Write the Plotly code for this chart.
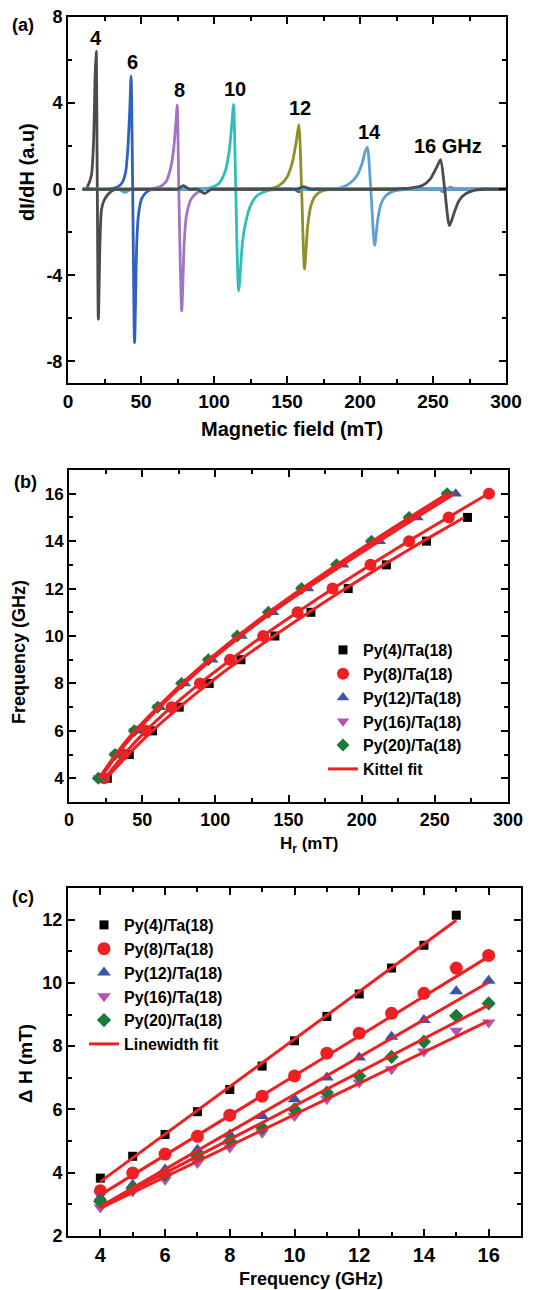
import plotly.graph_objects as go

W, H = 545, 1290
FONT = "Liberation Sans, Arial, sans-serif"

# ---------------- (a) FMR derivative spectra dI/dH ----------------
spec_labels = ["4", "6", "8", "10", "12", "14", "16 GHz"]
spec_colors = ["#4b4b4b", "#2f62bd", "#a274c4", "#2fbdbd", "#8f8f2a", "#5d9fd6", "#4b4b4b"]
label_x = [19.2, 44.3, 76.2, 114.4, 158.9, 206.4, 260.0]
label_y = [7.04, 5.92, 4.59, 4.67, 3.77, 2.65, 2.0]

field_4 = [10, 12, 13.2, 16.0, 17.5, 18.6, 19.3, 20.05, 20.8, 21.9, 23.0, 25.2, 29.6, 34, 38, 296, 300]
signal_4 = [0, 0, 0.1, 0.64, 2.2, 5.3, 6.41, 0.2, -6.04, -2.5, -0.92, -0.45, -0.1, 0, 0, 0, 0]

field_6 = [10, 14, 26, 30, 34, 37.3, 39.5, 41.0, 42.3, 43.2, 44.3, 45.6, 47.1, 48.2, 50.4, 53.7, 58, 62,
           151, 155, 158, 161, 165, 296, 300]
signal_6 = [0, 0, 0, 0.03, 0.1, 0.33, 0.8, 1.9, 3.7, 5.25, 0, -7.13, -2.47, -1.23, -0.45, -0.14, 0, 0,
            0, 0, -0.12, 0, 0, 0, 0]

field_8 = [10, 14, 54, 58, 62.5, 66.9, 70.2, 72.4, 73.9, 74.8, 75.9, 77.9, 79.6, 81.1, 84.4, 88.8, 95, 99,
           250, 254, 257, 259.5, 262, 265, 269, 296, 300]
signal_8 = [0, 0, 0, 0.03, 0.1, 0.33, 0.95, 1.88, 3.1, 3.9, 0, -5.65, -2.47, -1.23, -0.45, -0.14, 0, 0,
            0, 0, -0.12, 0, 0.1, 0, 0, 0, 0]

field_10 = [10, 14, 88, 92, 97.6, 103.1, 107.5, 110.3, 112.3, 113.4, 114.9, 116.9, 119.5, 121.7, 125, 129.4,
            137, 145, 149, 296, 300]
signal_10 = [0, 0, 0, 0.02, 0.06, 0.25, 0.8, 1.72, 3.1, 3.94, 0, -4.72, -2.47, -1.54, -0.76, -0.3,
             -0.06, 0, 0, 0, 0]

field_12 = [10, 14, 128, 132, 138, 144.5, 150, 153.7, 156.3, 158.1, 160, 162, 164.2, 166.4, 169.6, 175,
            183, 187, 296, 300]
signal_12 = [0, 0, 0, 0.01, 0.03, 0.17, 0.56, 1.26, 2.19, 3.0, 0, -3.71, -1.69, -0.76, -0.3, -0.06,
             0, 0, 0, 0]

field_14 = [10, 14, 31, 35, 39, 43, 47, 176, 180, 186, 192.5, 198, 201.7, 203.4, 205, 207.4, 210, 212.2,
            214.4, 217.6, 223, 232, 236, 296, 300]
signal_14 = [0, 0, 0, 0, -0.15, 0, 0, 0, 0.01, 0.05, 0.25, 0.64, 1.26, 1.72, 1.96, 0, -2.62, -1.38,
             -0.68, -0.3, -0.09, 0, 0, 0, 0]

field_16 = [10, 14, 71, 75, 79, 83, 86, 89, 93.5, 98, 102, 153, 157, 161.5, 166, 170, 222, 226, 234, 242.7,
            248.2, 252.5, 255.2, 258, 261.3, 264.6, 267.8, 272.2, 277.6, 285, 290, 296, 300]
signal_16 = [0, 0, 0, 0, 0.17, 0, 0, 0, -0.2, 0, 0, 0, 0, 0.12, 0, 0, 0, 0.01, 0.05, 0.17,
             0.48, 1.02, 1.38, 0, -1.69, -1.07, -0.53, -0.22, -0.06, 0, 0, 0, 0]

spec_fields = [field_4, field_6, field_8, field_10, field_12, field_14, field_16]
spec_signals = [signal_4, signal_6, signal_8, signal_10, signal_12, signal_14, signal_16]

a_yticks = [-8, -4, 0, 4, 8]
a_yticktext = ["-8", "-4", "0", "4", "8"]

# ---------------- shared sample list ----------------
samples = ["Py(4)/Ta(18)", "Py(8)/Ta(18)", "Py(12)/Ta(18)", "Py(16)/Ta(18)", "Py(20)/Ta(18)"]
sample_colors = ["#000000", "#ee2024", "#3c54a6", "#b355b5", "#1b7a3a"]
sample_symbols = ["square", "circle", "triangle-up", "triangle-down", "diamond"]
fit_color = "#ee2024"

# ---------------- (b) resonance field vs frequency ----------------
freq_b_py4 = [4, 5, 6, 7, 8, 9, 10, 11, 12, 13, 14, 15]
freq_b = [4, 5, 6, 7, 8, 9, 10, 11, 12, 13, 14, 15, 16]

hr_py4 = [26.2, 41.2, 57.1, 75.3, 95.8, 117.5, 140.7, 165.3, 190.8, 216.9, 244.3, 272.3]
hr_py8 = [24.0, 37.1, 52.6, 70.1, 89.5, 110.0, 132.7, 156.2, 180.1, 206.0, 232.4, 259.5, 287.0]
hr_py12 = [21.2, 32.5, 46.2, 62.1, 79.2, 97.9, 117.9, 139.5, 163.4, 187.3, 212.4, 238.1, 264.3]
hr_py16 = [20.5, 31.8, 45.0, 61.0, 77.5, 95.8, 115.8, 137.0, 159.5, 183.5, 207.5, 233.0, 259.0]
hr_py20 = [20.0, 31.4, 44.6, 60.6, 76.9, 95.2, 115.0, 136.2, 158.9, 182.8, 206.7, 232.4, 258.4]

# Kittel fit curves
kittel_py4 = [25.5, 40.5, 57.0, 75.5, 95.5, 117.0, 140.0, 164.0, 189.0, 215.0, 242.0, 270.0]
kittel_py8 = [24.5, 37.5, 52.5, 70.0, 89.5, 110.5, 132.5, 156.0, 180.5, 206.0, 232.0, 259.0, 286.5]
kittel_py12 = [21.5, 33.0, 46.5, 62.0, 79.0, 97.5, 117.5, 139.0, 162.5, 187.0, 212.0, 237.5, 263.5]
kittel_py16 = [21.0, 32.3, 45.5, 61.2, 78.0, 96.3, 116.2, 137.5, 160.0, 184.0, 208.5, 234.0, 260.0]
kittel_py20 = [20.5, 31.8, 45.0, 60.8, 77.3, 95.6, 115.4, 136.6, 159.2, 183.0, 207.3, 232.6, 258.5]

# ---------------- (c) linewidth vs frequency ----------------
dh_py4 = [3.83, 4.52, 5.21, 5.93, 6.63, 7.37, 8.17, 8.94, 9.65, 10.47, 11.19, 12.14]
dh_py8 = [3.43, 3.99, 4.59, 5.15, 5.82, 6.42, 7.06, 7.78, 8.41, 9.04, 9.67, 10.47, 10.87]
dh_py12 = [3.22, 3.62, 4.10, 4.73, 5.21, 5.79, 6.32, 7.01, 7.64, 8.30, 8.83, 9.74, 10.07]
dh_py16 = [2.90, 3.41, 3.78, 4.31, 4.80, 5.26, 5.79, 6.32, 6.85, 7.27, 7.83, 8.49, 8.75]
dh_py20 = [3.09, 3.51, 3.94, 4.52, 5.00, 5.42, 6.00, 6.53, 7.06, 7.66, 8.14, 8.96, 9.35]

# linear linewidth fits, end points
lwfit_f_py4 = [4, 15]
lwfit_py4 = [3.72, 11.98]
lwfit_f = [4, 16]
lwfit_py8 = [3.30, 10.83]
lwfit_py12 = [2.93, 10.02]
lwfit_py16 = [2.88, 8.80]
lwfit_py20 = [2.93, 9.30]

fig = go.Figure()

# (a) spectra
for xs, ys, col in zip(spec_fields, spec_signals, spec_colors):
    fig.add_trace(go.Scatter(x=xs, y=ys, mode="lines", xaxis="x", yaxis="y", showlegend=False,
                             line=dict(color=col, width=2.8, shape="spline", smoothing=0.7),
                             hoverinfo="skip"))

# (b) markers
b_freqs = [freq_b_py4, freq_b, freq_b, freq_b, freq_b]
b_hr = [hr_py4, hr_py8, hr_py12, hr_py16, hr_py20]
b_sizes = [9, 12, 11, 11, 10]
for name, xs, f, col, sym, sz in zip(samples, b_hr, b_freqs, sample_colors, sample_symbols, b_sizes):
    fig.add_trace(go.Scatter(x=xs, y=f, mode="markers", name=name, xaxis="x2", yaxis="y2",
                             legend="legend",
                             marker=dict(color=col, symbol=sym, size=sz, line=dict(width=0))))
b_fits = [kittel_py4, kittel_py8, kittel_py12, kittel_py16, kittel_py20]
for i, (xs, f) in enumerate(zip(b_fits, b_freqs)):
    fig.add_trace(go.Scatter(x=xs, y=f, mode="lines", name="Kittel fit", xaxis="x2", yaxis="y2",
                             legend="legend", showlegend=(i == 0),
                             line=dict(color=fit_color, width=3, shape="spline", smoothing=0.6)))

# (c) markers
c_dh = [dh_py4, dh_py8, dh_py12, dh_py16, dh_py20]
c_sizes = [9, 13, 12, 12, 11]
for name, ys, f, col, sym, sz in zip(samples, c_dh, b_freqs, sample_colors, sample_symbols, c_sizes):
    fig.add_trace(go.Scatter(x=f, y=ys, mode="markers", name=name, xaxis="x3", yaxis="y3",
                             legend="legend2",
                             marker=dict(color=col, symbol=sym, size=sz, line=dict(width=0))))
c_fit_x = [lwfit_f_py4, lwfit_f, lwfit_f, lwfit_f, lwfit_f]
c_fit_y = [lwfit_py4, lwfit_py8, lwfit_py12, lwfit_py16, lwfit_py20]
for i, (xs, ys) in enumerate(zip(c_fit_x, c_fit_y)):
    fig.add_trace(go.Scatter(x=xs, y=ys, mode="lines", name="Linewidth fit", xaxis="x3", yaxis="y3",
                             legend="legend2", showlegend=(i == 0),
                             line=dict(color=fit_color, width=3)))


def axis(domain, rng, dtick, minor_dtick, size, tick0=0, anchor=None, **kw):
    d = dict(domain=domain, range=rng, dtick=dtick, tick0=tick0, anchor=anchor, automargin=False,
             showline=True, linecolor="black", linewidth=2, mirror="ticks",
             ticks="inside", ticklen=7, tickwidth=2, tickcolor="black",
             showgrid=False, zeroline=False,
             tickfont=dict(size=size, family=FONT, color="black", weight="bold"),
             minor=dict(ticks="inside", ticklen=4, tickwidth=2, tickcolor="black",
                        dtick=minor_dtick, tick0=tick0, showgrid=False))
    d.update(kw)
    return d


def px(xp):
    return xp / W


def py(yp):
    return 1 - yp / H


fig.update_layout(
    template="none",
    width=W, height=H, margin=dict(l=0, r=0, t=0, b=0, pad=0), autosize=False,
    paper_bgcolor="white", plot_bgcolor="white",
    font=dict(family=FONT, color="black", weight="bold"),
    xaxis=axis([px(68), px(506)], [0, 300], 50, 25, 19, anchor="y"),
    yaxis=axis([py(383), py(17)], [-9, 8], None, 2, 18, anchor="x",
               tickmode="array", tickvals=a_yticks, ticktext=a_yticktext),
    xaxis2=axis([px(69), px(508)], [0, 300], 50, 25, 18, anchor="y2"),
    yaxis2=axis([py(802), py(470)], [3, 17], 2, 1, 17, tick0=4, anchor="x2"),
    xaxis3=axis([px(68), px(521)], [3, 17], 2, 1, 20, tick0=4, anchor="y3"),
    yaxis3=axis([py(1236), py(888)], [2, 13], 2, 1, 18, tick0=2, anchor="x3"),
    legend=dict(x=px(323), y=py(633), xanchor="left", yanchor="top", bgcolor="rgba(0,0,0,0)",
                font=dict(size=16, family=FONT, color="black", weight="bold"), tracegroupgap=0),
    legend2=dict(x=px(84), y=py(908), xanchor="left", yanchor="top", bgcolor="rgba(0,0,0,0)",
                 font=dict(size=16, family=FONT, color="black", weight="bold"), tracegroupgap=0),
)

# frequency labels on the spectra
for t, lx, ly in zip(spec_labels, label_x, label_y):
    fig.add_annotation(x=lx, y=ly, xref="x", yref="y", text=t, showarrow=False,
                       font=dict(size=20, family=FONT, color="black", weight="bold"),
                       xanchor="center", yanchor="middle")


def paper_text(text, xp, yp, size, angle=0):
    fig.add_annotation(x=px(xp), y=py(yp), xref="paper", yref="paper", text=text, showarrow=False,
                       textangle=angle, xanchor="center", yanchor="middle",
                       font=dict(size=size, family=FONT, color="black", weight="bold"))


paper_text("(a)", 23, 25, 18)
paper_text("(b)", 25, 482, 18)
paper_text("(c)", 23, 897, 18)
paper_text("dI/dH (a.u)", 27, 172, 20, -90)
paper_text("Magnetic field (mT)", 292, 429, 20)
paper_text("Frequency (GHz)", 19, 652, 18, -90)
paper_text("H<sub>r</sub> (mT)", 309, 845, 17)
paper_text("Δ H (mT)", 25, 1064, 19, -90)
paper_text("Frequency (GHz)", 311, 1279, 18)

fig.write_html("out.html")
